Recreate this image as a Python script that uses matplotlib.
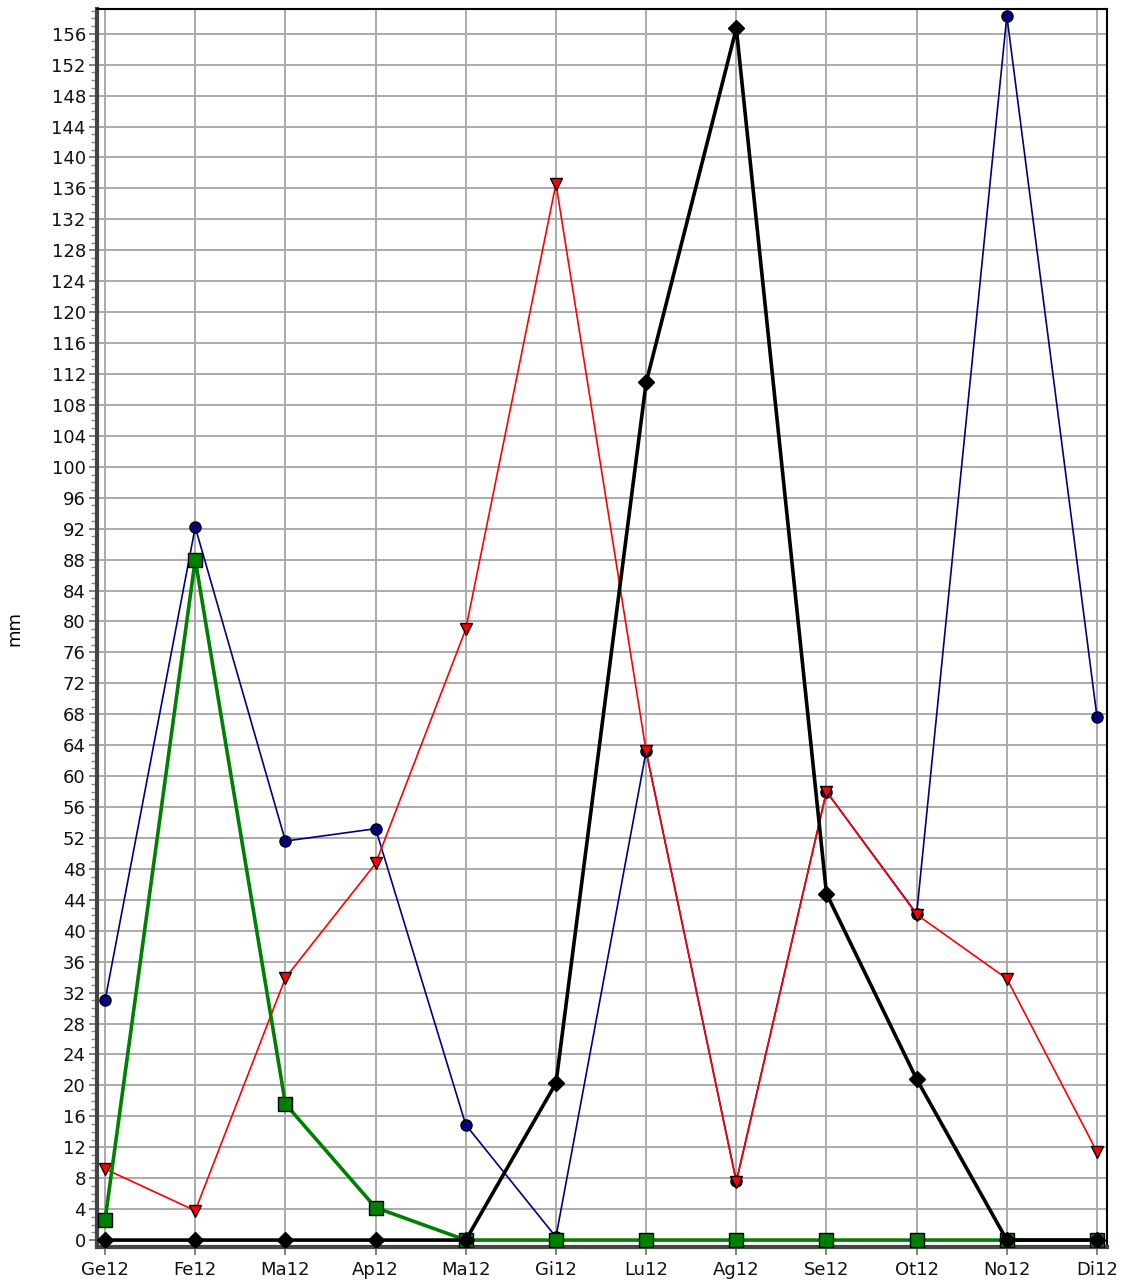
import matplotlib
matplotlib.use("Agg")
import matplotlib.pyplot as plt
from matplotlib.ticker import MultipleLocator

# dati mensili (mm)
mesi = ["Ge12", "Fe12", "Ma12", "Ap12", "Ma12", "Gi12",
        "Lu12", "Ag12", "Se12", "Ot12", "No12", "Di12"]
serie_blu = [31.0, 92.2, 51.6, 53.2, 14.9, 0.4, 63.2, 7.6, 58.0, 42.2, 158.3, 67.6]
serie_rossa = [9.2, 3.8, 33.9, 48.7, 79.0, 136.6, 63.2, 7.5, 58.0, 42.1, 33.8, 11.4]
serie_verde = [2.6, 88.0, 17.6, 4.2, 0.0, 0.0, 0.0, 0.0, 0.0, 0.0, 0.0, 0.0]
serie_nera = [0.0, 0.0, 0.0, 0.0, 0.0, 20.3, 110.9, 156.7, 44.8, 20.8, 0.0, 0.0]

x = list(range(len(mesi)))

fig = plt.figure(figsize=(11.3, 12.86), dpi=100)
ax = fig.add_axes([0.0858, 0.0303, 0.8938, 0.9627])

ax.plot(x, serie_blu, color="#000080", lw=1.2, marker="o", ms=8,
        mfc="#000080", mec="black", mew=1, zorder=3)
ax.plot(x, serie_rossa, color="#ff0000", lw=1.2, marker="v", ms=8.5,
        mfc="#ff0000", mec="black", mew=1, zorder=4)
ax.plot(x, serie_verde, color="#008000", lw=2.6, marker="s", ms=10,
        mfc="#008000", mec="black", mew=1, zorder=5)
ax.plot(x, serie_nera, color="black", lw=2.6, marker="D", ms=8.5,
        mfc="black", mec="black", mew=1, zorder=6)

ax.set_xlim(-0.09, 11.11)
ax.set_ylim(-0.9, 159.2)
ax.set_xticks(x)
ax.set_xticklabels(mesi)
ax.yaxis.set_major_locator(MultipleLocator(4))
ax.yaxis.set_minor_locator(MultipleLocator(1))

ax.grid(True, which="major", color="#aaaaaa", lw=1.4, zorder=0)
ax.set_axisbelow(True)

ax.tick_params(axis="both", which="major", length=6, width=1.3,
               color="#777777", labelsize=13, labelcolor="#111111", pad=2)
ax.tick_params(axis="x", which="major", pad=4)
ax.tick_params(axis="y", which="minor", length=4, width=1.0, color="#888888")

for lato in ("top", "right"):
    ax.spines[lato].set_color("black")
    ax.spines[lato].set_linewidth(1.5)
for lato in ("left", "bottom"):
    ax.spines[lato].set_color("#444444")
    ax.spines[lato].set_linewidth(3)

ax.set_ylabel("mm", fontsize=13, labelpad=20)

fig.savefig("out.png", dpi=100)
